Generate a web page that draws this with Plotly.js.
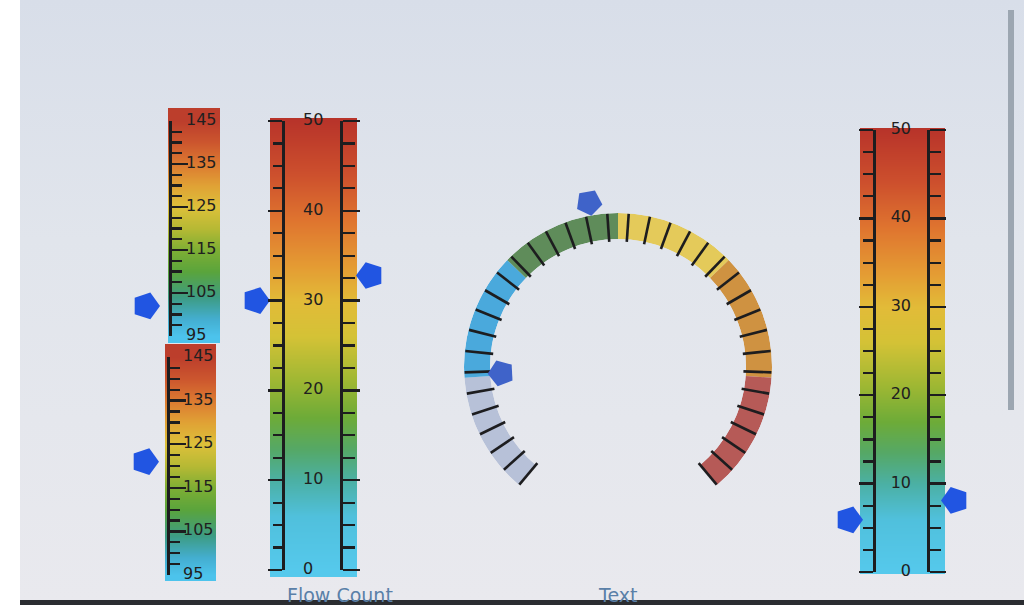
<!DOCTYPE html>
<html>
<head>
<meta charset="utf-8">
<script src="https://cdn.plot.ly/plotly-3.0.1.min.js"></script>
<style>
html,body{margin:0;padding:0;width:1024px;height:605px;overflow:hidden;background:#ffffff}
#screen{position:absolute;left:20px;top:0;width:1004px;height:600px;
  background:linear-gradient(to bottom,#d8dee9 0%,#e1e5ec 40%,#e9e9ee 100%)}
#bottomedge{position:absolute;left:20px;top:600px;width:1004px;height:5px;background:#2b2d31}
#scrollbar{position:absolute;left:1008px;top:10px;width:6px;height:400px;background:#9ca6b1}
#chart{position:absolute;left:0;top:0;width:1024px;height:605px}
</style>
</head>
<body>
<div id="screen"></div>
<div id="bottomedge"></div>
<div id="scrollbar"></div>
<div id="chart"></div>
<script>
// ---------------- DATA ----------------
// Upper small gauge (95..145)
const gaugeA_ticks = [95, 105, 115, 125, 135, 145];
const gaugeA_pointer = [102];
// Lower small gauge (95..145)
const gaugeB_ticks = [95, 105, 115, 125, 135, 145];
const gaugeB_pointer = [121];
// Flow Count gauge (0..50)
const flow_ticks = [0, 10, 20, 30, 40, 50];
const flow_left_pointer = [30];
const flow_right_pointer = [32.8];
// Right gauge (0..50)
const right_ticks = [0, 10, 20, 30, 40, 50];
const right_left_pointer = [5.9];
const right_right_pointer = [8.1];
// Circular gauge (unlabelled scale 0..140)
const ring_range = [0, 140];
const ring_tick_step = 4;
const ring_segment_ends = [23, 47, 70, 93, 117, 140];
const ring_segment_colors = ['#b7c1d8', '#4aa9dc', '#5f8c5a', '#e4ca5a', '#cf9241', '#b65a57'];
const ring_outer_pointer = [65];
const ring_inner_pointer = [23.5];
// Titles
const title_flow = 'Flow Count';
const title_ring = 'Text';

// ---------------- STYLE / LAYOUT HELPERS ----------------
const W = 1024, H = 605;
const fx = p => p / W;
const fy = p => 1 - p / H;
const INK = '#1d1d1f';
const POINTER = '#2155e2';
const RING_POINTER = '#3f63c9';
const FONT = 'DejaVu Sans, sans-serif';

const scaleAB = [[0,'#4cc3ec'],[0.08,'#44aed0'],[0.18,'#3d9c84'],[0.3,'#5aa43c'],[0.4,'#7dae34'],
  [0.5,'#b6b934'],[0.6,'#dcc03a'],[0.7,'#e0a235'],[0.8,'#dc7a31'],[0.9,'#cc562e'],[1,'#bc3e2c']];
const scaleCD = [[0,'#55c9ec'],[0.12,'#50c0dc'],[0.2,'#4bb0a4'],[0.27,'#55a866'],[0.34,'#6dab38'],
  [0.42,'#9db733'],[0.52,'#d4c236'],[0.6,'#e2bb38'],[0.68,'#e49a33'],[0.78,'#df742f'],
  [0.88,'#cd502d'],[1,'#b8342a']];

const layout = {
  width: W, height: H,
  margin: {l: 0, r: 0, t: 0, b: 0},
  paper_bgcolor: 'rgba(0,0,0,0)', plot_bgcolor: 'rgba(0,0,0,0)',
  showlegend: false, annotations: [], font: {family: FONT}
};
const traces = [];
let axN = 0;
const id = (l, n) => l + (n === 1 ? '' : n);
const key = (l, n) => l + 'axis' + (n === 1 ? '' : n);

function scaleAxis(cfg, line, extra) {
  return Object.assign({
    domain: [fy(cfg.pyMin), fy(cfg.pyMax)],
    range: [cfg.ticks[0], cfg.ticks[cfg.ticks.length - 1]],
    anchor: 'free', position: fx(line.x), side: line.side,
    showline: true, linecolor: INK, linewidth: 2.6,
    ticks: line.ticks, ticklen: line.major, tickwidth: 2.4, tickcolor: INK,
    tickmode: 'linear', tick0: cfg.ticks[0], dtick: 10,
    minor: {ticks: line.ticks, ticklen: line.minor, tickwidth: 2.2, tickcolor: INK,
            tick0: cfg.ticks[0], dtick: 2.5, showgrid: false},
    showticklabels: false, showgrid: false, zeroline: false, fixedrange: true
  }, extra || {});
}

function linearGauge(cfg) {
  const lo = cfg.ticks[0], hi = cfg.ticks[cfg.ticks.length - 1];
  const ppu = (cfg.pyMin - cfg.pyMax) / (hi - lo);
  // colour bar
  const b = ++axN;
  layout[key('x', b)] = {domain: [fx(cfg.bar[0]), fx(cfg.bar[1])], range: [0, 1], visible: false,
                         anchor: id('y', b), fixedrange: true};
  layout[key('y', b)] = {domain: [fy(cfg.bar[3]), fy(cfg.bar[2])],
                         range: [lo - (cfg.bar[3] - cfg.pyMin) / ppu, hi + (cfg.pyMax - cfg.bar[2]) / ppu],
                         visible: false, anchor: id('x', b), fixedrange: true};
  traces.push({type: 'heatmap', x: [0, 1], y: [lo, hi], z: [[lo, lo], [hi, hi]],
               zmin: lo, zmax: hi, zsmooth: 'best', colorscale: cfg.colors, showscale: false,
               hoverinfo: 'skip', xaxis: id('x', b), yaxis: id('y', b)});
  // scale
  const s = ++axN;
  layout[key('x', s)] = {domain: [fx(cfg.span[0]), fx(cfg.span[1])], range: cfg.span, visible: false,
                         anchor: id('y', s), fixedrange: true};
  layout[key('y', s)] = scaleAxis(cfg, cfg.lines[0]);
  let yRight = id('y', s);
  if (cfg.lines.length > 1) {
    const r = ++axN;
    layout[key('y', r)] = scaleAxis(cfg, cfg.lines[1], {overlaying: id('y', s)});
    yRight = id('y', r);
  }
  // labels
  traces.push({type: 'scatter', mode: 'text', x: cfg.ticks.map(() => cfg.labelX), y: cfg.ticks,
               text: cfg.ticks.map(String), textposition: cfg.labelPos, cliponaxis: false,
               textfont: {family: FONT, size: 16, color: '#202020'}, hoverinfo: 'skip',
               xaxis: id('x', s), yaxis: id('y', s)});
  // pointers
  cfg.pointers.forEach(p => {
    traces.push({type: 'scatter', mode: 'markers', x: p.values.map(() => p.x), y: p.values,
                 cliponaxis: false, hoverinfo: 'skip',
                 marker: {symbol: 'pentagon', angle: p.dir === 'right' ? 90 : -90, size: 28,
                          color: POINTER, line: {width: 0}},
                 xaxis: id('x', s), yaxis: p.side === 'right' ? yRight : id('y', s)});
  });
}

linearGauge({
  ticks: gaugeA_ticks, colors: scaleAB,
  bar: [168, 220, 108, 343], pyMin: 336, pyMax: 121, span: [120, 240],
  lines: [{x: 170, side: 'left', ticks: 'inside', major: 16, minor: 10}],
  labelX: 186, labelPos: 'middle right',
  pointers: [{values: gaugeA_pointer, x: 146, dir: 'right', side: 'left'}]
});
linearGauge({
  ticks: gaugeB_ticks, colors: scaleAB,
  bar: [165, 216, 344, 581], pyMin: 575, pyMax: 357, span: [120, 240],
  lines: [{x: 168, side: 'left', ticks: 'inside', major: 16, minor: 10}],
  labelX: 183, labelPos: 'middle right',
  pointers: [{values: gaugeB_pointer, x: 145, dir: 'right', side: 'left'}]
});
linearGauge({
  ticks: flow_ticks, colors: scaleCD,
  bar: [270, 357, 118, 577], pyMin: 570, pyMax: 121, span: [230, 400],
  lines: [{x: 283, side: 'left', ticks: 'outside', major: 14, minor: 9},
          {x: 341, side: 'right', ticks: 'outside', major: 17, minor: 12}],
  labelX: 303, labelPos: 'middle right',
  pointers: [{values: flow_left_pointer, x: 256, dir: 'right', side: 'left'},
             {values: flow_right_pointer, x: 370, dir: 'left', side: 'right'}]
});
linearGauge({
  ticks: right_ticks, colors: scaleCD,
  bar: [860, 945, 128, 574], pyMin: 572, pyMax: 130, span: [820, 990],
  lines: [{x: 874, side: 'left', ticks: 'outside', major: 14, minor: 10},
          {x: 928, side: 'right', ticks: 'outside', major: 16, minor: 11}],
  labelX: 911, labelPos: 'middle left',
  pointers: [{values: right_left_pointer, x: 849, dir: 'right', side: 'left'},
             {values: right_right_pointer, x: 955, dir: 'left', side: 'right'}]
});

// ---------------- CIRCULAR GAUGE ----------------
const RING = {cx: 618, cy: 367, rOut: 154, rIn: 128, start: 230, sweep: 280, rPtr: 182};
const toDeg = v => (v - ring_range[0]) * RING.sweep / (ring_range[1] - ring_range[0]);
const segStarts = ring_segment_ends.map((e, i) => i === 0 ? ring_range[0] : ring_segment_ends[i - 1]);
const ringTicks = [];
for (let v = ring_range[0]; v <= ring_range[1] + 1e-9; v += ring_tick_step) ringTicks.push(toDeg(v));

layout.polar = {
  domain: {x: [fx(RING.cx - RING.rOut), fx(RING.cx + RING.rOut)],
           y: [fy(RING.cy + RING.rOut), fy(RING.cy - RING.rOut)]},
  hole: RING.rIn / RING.rOut, bgcolor: 'rgba(0,0,0,0)',
  radialaxis: {visible: false, range: [0, 1]},
  angularaxis: {rotation: RING.start, direction: 'clockwise', thetaunit: 'degrees',
                showgrid: false, showline: false, showticklabels: false,
                ticks: 'inside', ticklen: 28, tickwidth: 2.6, tickcolor: INK,
                tickmode: 'array', tickvals: ringTicks, layer: 'above traces'}
};
layout.polar2 = {
  domain: {x: [fx(RING.cx - RING.rPtr), fx(RING.cx + RING.rPtr)],
           y: [fy(RING.cy + RING.rPtr), fy(RING.cy - RING.rPtr)]},
  bgcolor: 'rgba(0,0,0,0)',
  radialaxis: {visible: false, range: [0, 1]},
  angularaxis: {visible: false, rotation: RING.start, direction: 'clockwise', thetaunit: 'degrees'}
};
traces.push({type: 'barpolar', subplot: 'polar',
  r: ring_segment_ends.map(() => 1),
  theta: ring_segment_ends.map((e, i) => (toDeg(e) + toDeg(segStarts[i])) / 2),
  width: ring_segment_ends.map((e, i) => toDeg(e) - toDeg(segStarts[i])),
  marker: {color: ring_segment_colors, line: {width: 0}}, hoverinfo: 'skip'});

function ringPointer(values, rPx, inward) {
  const std = values.map(v => RING.start - toDeg(v));
  traces.push({type: 'scatterpolar', subplot: 'polar2', mode: 'markers', cliponaxis: false,
    r: values.map(() => rPx / RING.rPtr), theta: values.map(toDeg), hoverinfo: 'skip',
    marker: {symbol: 'pentagon', size: 27, color: RING_POINTER,
             angle: std.map(a => 90 - (inward ? a + 180 : a))}});
}
ringPointer(ring_outer_pointer, 167, true);
ringPointer(ring_inner_pointer, 117, false);

// ---------------- TITLES ----------------
[[title_flow, 340], [title_ring, 617]].forEach(([t, px]) => {
  layout.annotations.push({text: t, xref: 'paper', yref: 'paper', x: fx(px), y: fy(595),
    xanchor: 'center', yanchor: 'middle', showarrow: false,
    font: {family: FONT, size: 19, color: '#5a80a8'}});
});

Plotly.newPlot('chart', traces, layout, {staticPlot: true, displayModeBar: false});
</script>
</body>
</html>
